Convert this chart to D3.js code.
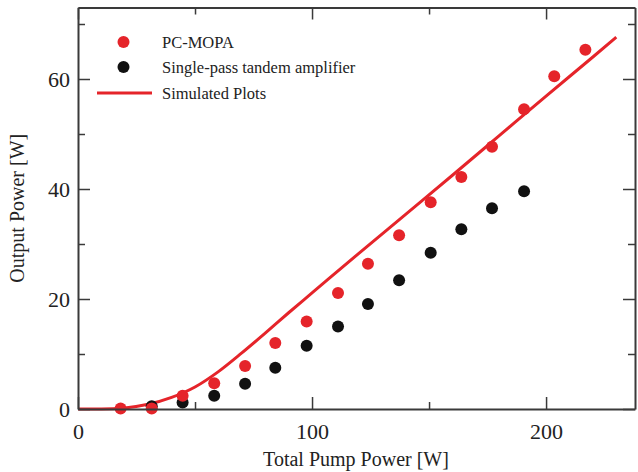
<!DOCTYPE html>
<html>
<head>
<meta charset="utf-8">
<script src="https://cdn.jsdelivr.net/npm/d3@7"></script>
<style>
  html, body { margin: 0; padding: 0; background: #fff; }
  svg { display: block; }
  text { font-family: "Liberation Serif", "Times New Roman", serif; fill: #222; }
</style>
</head>
<body>
<div id="chart"></div>
<script>
// ---- Data ----
const pumpPower = [18.2, 31.5, 44.7, 58.2, 71.4, 84.3, 97.7, 111.1, 123.9, 137.2, 150.7, 163.8, 176.9, 190.6, 203.5, 216.8];
const pcMopa    = [0.1, 0.1, 2.4, 4.7, 7.8, 12.0, 15.9, 21.1, 26.4, 31.6, 37.6, 42.2, 47.7, 54.5, 60.5, 65.3];

const tandemPump = [31.5, 44.7, 58.2, 71.4, 84.3, 97.7, 111.1, 123.9, 137.2, 150.7, 163.8, 176.9, 190.6];
const tandemOut  = [0.5, 1.2, 2.4, 4.6, 7.5, 11.5, 15.0, 19.1, 23.4, 28.4, 32.7, 36.5, 39.6];

const simPump = [0, 10, 20, 30, 40, 50, 60, 70, 80, 90, 100, 120, 140, 160, 180, 200, 220, 230];
const simOut  = [0, 0, 0.2, 0.85, 2.1, 4.0, 6.8, 10.2, 13.8, 17.5, 21.1, 28.3, 35.4, 42.5, 49.7, 56.9, 64.0, 67.6];

const xMajorTicks = [0, 100, 200];
const xMinorTicks = [50, 150];
const yMajorTicks = [0, 20, 40, 60];
const yMinorTicks = [10, 30, 50, 70];

const legendLabels = ["PC-MOPA", "Single-pass tandem amplifier", "Simulated Plots"];
const xTitle = "Total Pump Power [W]";
const yTitle = "Output Power [W]";

// ---- Chart ----
const W = 638, H = 472;
const red = "#e5242a", black = "#111";
const axisColor = "#3a3a3a";

const svg = d3.select("#chart").append("svg").attr("width", W).attr("height", H);

const x = d3.scaleLinear().domain([0, 238]).range([78, 635]);
const y = d3.scaleLinear().domain([0, 73]).range([409, 7.5]);

// simulated line
const line = d3.line().x(d => x(d[0])).y(d => y(d[1])).curve(d3.curveMonotoneX);
svg.append("path")
  .datum(simPump.map((p, i) => [p, simOut[i]]))
  .attr("d", line)
  .attr("fill", "none")
  .attr("stroke", red)
  .attr("stroke-width", 3);

// black points
svg.append("g").selectAll("circle")
  .data(tandemPump.map((p, i) => [p, tandemOut[i]]))
  .join("circle")
  .attr("cx", d => x(d[0])).attr("cy", d => y(d[1])).attr("r", 6)
  .attr("fill", black);

// red points
svg.append("g").selectAll("circle")
  .data(pumpPower.map((p, i) => [p, pcMopa[i]]))
  .join("circle")
  .attr("cx", d => x(d[0])).attr("cy", d => y(d[1])).attr("r", 6)
  .attr("fill", red);

// axes frame with inward ticks
function styleAxis(g) {
  g.selectAll("path").attr("stroke", axisColor).attr("stroke-width", 2);
  g.selectAll("line").attr("stroke", axisColor).attr("stroke-width", 1.5);
  g.selectAll("text").attr("font-family", '"Liberation Serif", "Times New Roman", serif')
    .attr("font-size", 22).attr("fill", "#222");
}

const x0 = x.range()[0], x1 = x.range()[1], y0 = y.range()[0], y1 = y.range()[1];

// bottom
svg.append("g").attr("transform", `translate(0,${y0})`)
  .call(d3.axisBottom(x).tickValues(xMajorTicks).tickSizeInner(-12).tickSizeOuter(0).tickPadding(14).tickFormat(d3.format("d")))
  .call(styleAxis);
svg.append("g").attr("transform", `translate(0,${y0})`)
  .call(d3.axisBottom(x).tickValues(xMinorTicks).tickSizeInner(-7).tickSizeOuter(0).tickFormat(""))
  .call(styleAxis).call(g => g.select("path").remove());
// top
svg.append("g").attr("transform", `translate(0,${y1})`)
  .call(d3.axisTop(x).tickValues(xMajorTicks).tickSizeInner(-12).tickSizeOuter(0).tickFormat(""))
  .call(styleAxis);
svg.append("g").attr("transform", `translate(0,${y1})`)
  .call(d3.axisTop(x).tickValues(xMinorTicks).tickSizeInner(-7).tickSizeOuter(0).tickFormat(""))
  .call(styleAxis).call(g => g.select("path").remove());
// left
svg.append("g").attr("transform", `translate(${x0},0)`)
  .call(d3.axisLeft(y).tickValues(yMajorTicks).tickSizeInner(-12).tickSizeOuter(0).tickPadding(8).tickFormat(d3.format("d")))
  .call(styleAxis);
svg.append("g").attr("transform", `translate(${x0},0)`)
  .call(d3.axisLeft(y).tickValues(yMinorTicks).tickSizeInner(-7).tickSizeOuter(0).tickFormat(""))
  .call(styleAxis).call(g => g.select("path").remove());
// right
svg.append("g").attr("transform", `translate(${x1},0)`)
  .call(d3.axisRight(y).tickValues(yMajorTicks).tickSizeInner(-12).tickSizeOuter(0).tickFormat(""))
  .call(styleAxis);
svg.append("g").attr("transform", `translate(${x1},0)`)
  .call(d3.axisRight(y).tickValues(yMinorTicks).tickSizeInner(-7).tickSizeOuter(0).tickFormat(""))
  .call(styleAxis).call(g => g.select("path").remove());

// axis titles
svg.append("text")
  .attr("x", 356).attr("y", 466)
  .attr("text-anchor", "middle").attr("font-size", 20)
  .text(xTitle);
svg.append("text")
  .attr("transform", `translate(24,${(y0 + y1) / 2}) rotate(-90)`)
  .attr("text-anchor", "middle").attr("font-size", 20)
  .text(yTitle);

// legend
const leg = svg.append("g");
const legendKinds = ["dot", "dot", "line"];
const legendColors = [red, black, red];
const legendY = [42, 67, 93];
legendLabels.forEach((lab, i) => {
  if (legendKinds[i] === "dot") {
    leg.append("circle").attr("cx", 123.5).attr("cy", legendY[i]).attr("r", 6).attr("fill", legendColors[i]);
  } else {
    leg.append("line").attr("x1", 97).attr("x2", 152).attr("y1", legendY[i]).attr("y2", legendY[i])
      .attr("stroke", legendColors[i]).attr("stroke-width", 3);
  }
  leg.append("text").attr("x", 162).attr("y", legendY[i]).attr("dy", "0.35em")
    .attr("font-size", 16.5).text(lab);
});
</script>
</body>
</html>
